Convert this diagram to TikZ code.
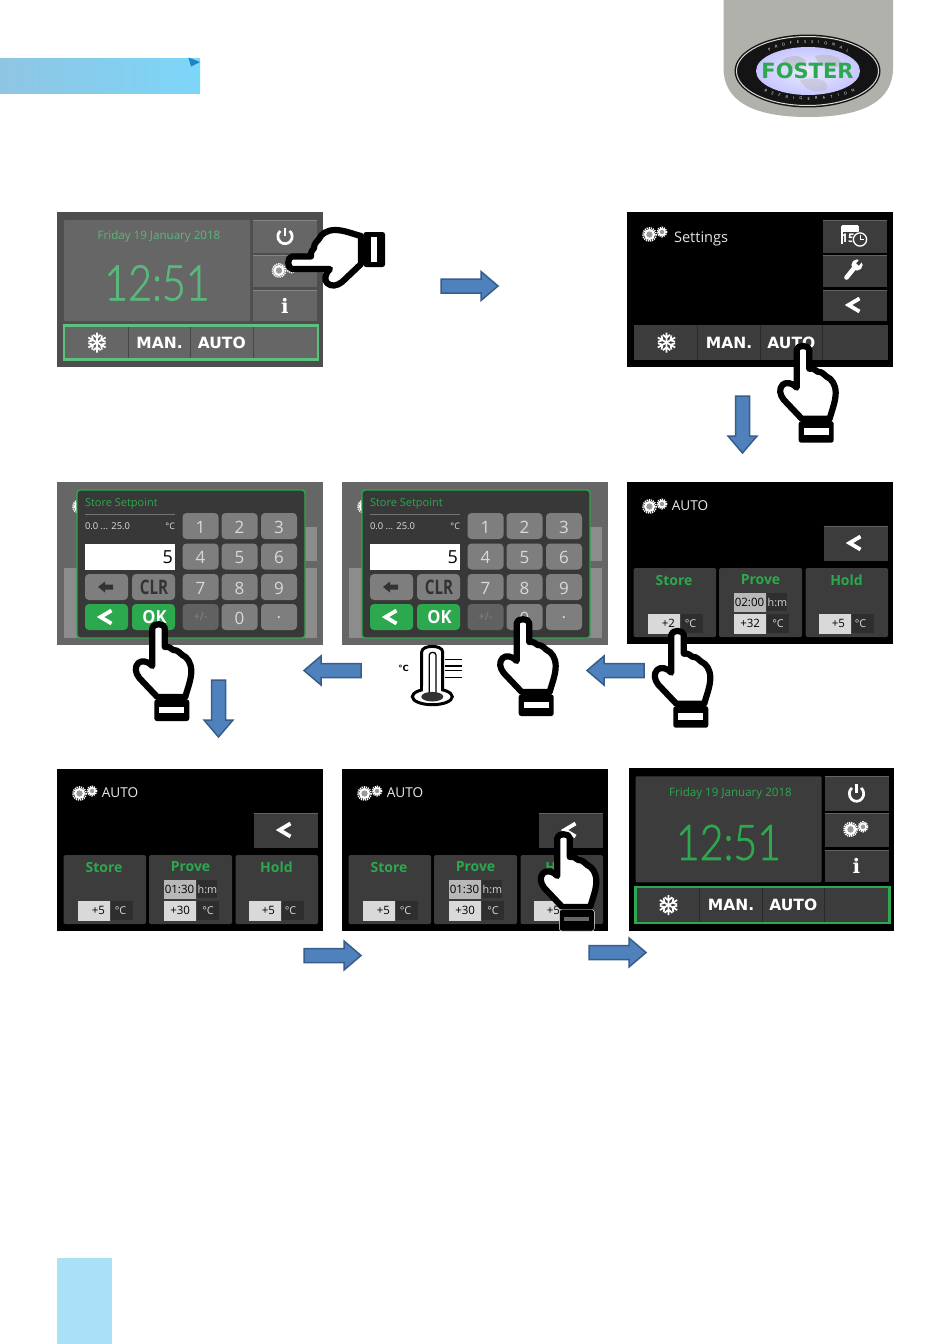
\documentclass[tikz,border=0pt]{standalone}
\usepackage{fontspec}
\setmainfont{Open Sans}
\newfontfamily\headfont{DejaVu Sans}
\newfontfamily\slabfont{DejaVu Serif}
\newfontfamily\lightfont{Lato}[UprightFont=* Light,UprightFeatures={FakeBold=1.5}]
\usetikzlibrary{decorations.text}
\definecolor{blueF}{HTML}{4F81BD}
\definecolor{blueD}{HTML}{385D8A}
\definecolor{tabgray}{HTML}{B0B1AB}
\definecolor{okgreen}{HTML}{2CA84F}
\definecolor{cardgray}{HTML}{3C3C3C}
\definecolor{unitgray}{HTML}{2E2E2E}
\definecolor{keygray}{HTML}{7E7E7E}
\definecolor{bandL}{HTML}{8FC5E3}
\definecolor{bandR}{HTML}{7CD6F8}
\definecolor{bandTri}{HTML}{1C85C8}
\definecolor{pageTab}{HTML}{AAE0F8}
\definecolor{washLine}{HTML}{5CC080}
\definecolor{washText}{HTML}{5AB87C}
\definecolor{washOuter}{HTML}{4E4E4E}
\definecolor{washPanel}{HTML}{666666}
\newcount\nodeno
\newcommand\T[4][]{\global\advance\nodeno by 1 \node[#1] (n\the\nodeno) at ({#2},{#3}) {#4};}
\tikzset{
  every node/.style={inner sep=0pt,outer sep=0pt},
  bigcaps/.style={text=white,font={\headfont\bfseries\fontsize{15.5}{16}\selectfont}},
  cardtitle/.style={text=okgreen,font={\bfseries\fontsize{14}{15}\selectfont}},
  valtext/.style={text=black,font={\fontsize{11.5}{12}\selectfont}},
  unittext/.style={text=white!85!black,font={\fontsize{10.8}{11}\selectfont}},
  keytext/.style={text=white!85!black,font={\fontsize{17}{18}\selectfont}},
  titletext/.style={text=white!92!black,font={\fontsize{13.6}{15}\selectfont}},
  whitechev/.style={draw=white,line width=3.8pt,line cap=butt,miter limit=10},
  blockarrow/.style={fill=blueF,draw=blueD,line width=1.5pt},
  handline/.style={draw=black,fill=white,line width=6.2pt,line join=round},
}
% ---------- icons
\newcommand\Chev[2]{\draw[whitechev] (#1+5.5,#2-6.5) -- (#1-5.5,#2) -- (#1+5.5,#2+6.5);}
\newcommand\OneGear[3]{% x y r
  \draw[white,line width=1.8pt,dash pattern=on 1.2pt off 0.9pt] (#1,#2) circle[radius=#3*0.92];
  \fill[white] (#1,#2) circle[radius=#3*0.8];
  \fill[black!40] (#1,#2) circle[radius=#3*0.45];
}
\newcommand\Gears[2]{\OneGear{#1}{#2}{7}\OneGear{#1+12.5}{#2-2.5}{5}}
\newcommand\Snow[2]{\foreach \a in {30,90,...,330}{
  \begin{scope}[shift={({#1},{#2})},rotate=\a]
    \draw[white,line width=1.7pt] (0,0)--(10,0) (7.8,-3.6)--(4.6,0)--(7.8,3.6);
  \end{scope}}}
\newcommand\Power[2]{%
  \draw[white,line width=2.7pt] (#1,#2) ++(-50:7.2) arc[start angle=-50,end angle=230,radius=7.2];
  \draw[white,line width=2.7pt] (#1,#2-9) -- (#1,#2-1);}
\newcommand\Btn[5]{\fill[#5] (#1,#2) rectangle (#3,#4); \draw[#5!80!white,line width=.8pt] (#1,#2+.4) -- (#3,#2+.4);}
\newcommand\BotBar[4]{% xleft ytop ybottom width-end
  \fill[\barcol] (#1,#2) rectangle (#1+#4,#3);
  \draw[\barcol!70!black,line width=.7pt] (#1+64,#2) -- (#1+64,#3) (#1+126.5,#2) -- (#1+126.5,#3) (#1+189,#2) -- (#1+189,#3);
  \Snow{#1+33}{(#2+#3)/2}
  \T[bigcaps]{#1+95.5}{(#2+#3)/2}{MAN.}
  \T[bigcaps]{#1+157.8}{(#2+#3)/2}{AUTO}
}
% ---------- clock screen
\newcommand\MainScreen[7]{% x0 y0 yfactor outer panel/btn linegreen textgreen
  \begin{scope}[shift={(#1,#2)},y=-#3pt]
  \fill[#4] (0,0) rectangle (265.5,155);
  \fill[#5,rounded corners=1pt] (7,8) rectangle (193,109);
  \Btn{196}{8}{260}{41}{#5}
  \Btn{196}{43}{260}{75}{#5}
  \Btn{196}{78}{260}{109}{#5}
  \def\barcol{#5}
  \BotBar{7}{113.5}{147.5}{254}
  \draw[#6,line width=2.6pt] (7,113.5) rectangle (261,147.5);
  \T[text=#7,font={\fontsize{11.6}{13}\selectfont}]{102}{24}{Friday 19 January 2018}
  \T[text=#7,font={\lightfont\fontsize{49}{50}\selectfont}]{100}{71}{\scalebox{.84}[1]{12:51}}
  \Power{228}{24.5}
  \Gears{222}{58.5}
  \T[text=white,font={\slabfont\bfseries\fontsize{20}{22}\selectfont}]{228}{93.5}{i}
  \end{scope}
}
% ---------- AUTO screen
\newcommand\AutoScreen[6]{% x0 y0 store time prove hold
  \begin{scope}[shift={(#1,#2)}]
  \fill[black] (0,0) rectangle (266,162);
  \Gears{22.5}{24.5}
  \T[titletext]{63}{23.5}{AUTO}
  \Btn{196.5}{44}{260.5}{79}{cardgray}
  \Chev{228}{61}
  \fill[cardgray,rounded corners=1.5pt] (6.5,86) rectangle (89,155);
  \fill[cardgray,rounded corners=1.5pt] (92,86) rectangle (175,155);
  \fill[cardgray,rounded corners=1.5pt] (178.5,86) rectangle (261,155);
  \T[cardtitle]{47}{98}{Store}
  \T[cardtitle]{133.5}{98}{Prove}
  \T[cardtitle]{219.5}{98}{Hold}
  % store value
  \fill[unitgray] (53,132) rectangle (76,151);
  \shade[left color=white!85!black,middle color=white,right color=white!85!black] (21,132) rectangle (53,151);
  \T[valtext,anchor=east]{48}{141.5}{#3}
  \T[unittext]{63.5}{141.5}{°C}
  % prove time
  \fill[unitgray] (139,111) rectangle (160,129);
  \shade[left color=white!72!black,middle color=white,right color=white!72!black] (107,111) rectangle (139,129);
  \T[valtext]{122.5}{120}{#4}
  \T[unittext]{150.5}{120}{h:m}
  % prove value
  \fill[unitgray] (139,132) rectangle (162,151);
  \shade[left color=white!85!black,middle color=white,right color=white!85!black] (107,132) rectangle (139,151);
  \T[valtext,anchor=east]{133}{141.5}{#5}
  \T[unittext]{151}{141.5}{°C}
  % hold value
  \fill[unitgray] (224,132) rectangle (247,151);
  \shade[left color=white!85!black,middle color=white,right color=white!85!black] (192,132) rectangle (224,151);
  \T[valtext,anchor=east]{218}{141.5}{#6}
  \T[unittext]{233.5}{141.5}{°C}
  \end{scope}
}
% ---------- keypad screen
\newcommand\KeyShape[5]{\fill[#5,rounded corners=4pt] (#1,#2) rectangle (#3,#4);}
\newcommand\Keypad[2]{%
  \begin{scope}[shift={(#1,#2)}]
  \fill[black!60] (0,0) rectangle (266,162.5);
  \fill[black!45] (248,45) rectangle (260,79);
  \fill[black!45] (7,86) rectangle (20,156);
  \fill[black!45] (248,86) rectangle (260,156);
  \OneGear{22.5}{24.5}{7}
  \fill[black!78,rounded corners=3pt] (20,8) rectangle (248,156);
  \draw[okgreen,line width=1.4pt,rounded corners=3pt] (20,8) rectangle (248,156);
  \T[anchor=west,text=okgreen,font={\fontsize{11}{12}\selectfont}]{28}{21.5}{Store Setpoint}
  \draw[black!55,line width=.7pt] (28,32) -- (118,32);
  \T[anchor=west,text=white!88!black,font={\fontsize{9.4}{10}\selectfont}]{28}{44.5}{0.0 ... 25.0}
  \T[anchor=east,text=white!88!black,font={\fontsize{9}{10}\selectfont}]{118}{44.5}{°C}
  \fill[white] (28,62) rectangle (118,87.5);
  \T[anchor=east,text=black,font={\fontsize{18}{19}\selectfont}]{116}{75.5}{5}
  \foreach \lbl/\cx/\cy in {1/143.5/44,2/182.5/44,3/222/44,4/143.5/74.5,5/182.5/74.5,6/222/74.5,7/143.5/105,8/182.5/105,9/222/105,0/182.5/135}{
    \KeyShape{\cx-18}{\cy-13}{\cx+18}{\cy+13}{keygray}
    \T[keytext]{\cx}{\cy+1}{\lbl}
  }
  \KeyShape{125.5}{122}{161.5}{148}{black!62}
  \T[text=black!48,font={\fontsize{11}{12}\selectfont}]{143.5}{135}{+/-}
  \KeyShape{204}{122}{240}{148}{keygray}
  \T[keytext]{222}{136}{.}
  \KeyShape{28}{92}{71}{118}{keygray}
  \fill[black!80] (41,105) -- (48,99.5) -- (48,102.5) -- (56,102.5) -- (56,107.5) -- (48,107.5) -- (48,110.5) -- cycle;
  \KeyShape{75}{92}{118}{118}{keygray}
  \T[text=black!80,font={\bfseries\fontsize{20}{22}\selectfont}]{97}{105}{\scalebox{.76}[1]{CLR}}
  \KeyShape{28}{122}{71}{148}{okgreen}
  \Chev{49}{135}
  \KeyShape{75}{122}{118}{148}{okgreen}
  \T[text=white,font={\bfseries\fontsize{18}{19}\selectfont}]{97.5}{135}{\scalebox{.92}[1]{OK}}
  \end{scope}
}
% ---------- hand pointing up, tip at local origin
\newcommand\Hand[5][]{% [cuff opts] x y rotation slitcolor
  \begin{scope}[shift={(#2,#3)},rotate=#4]
    \path[handline] (-6,3) .. controls (-6,-2) and (6.5,-2) .. (6.5,3) -- (6.5,22)
      .. controls (11,21) and (13,24) .. (15,25)
      .. controls (20,25) and (21,28) .. (24,30)
      .. controls (29,32) and (33,38) .. (33,46)
      .. controls (33,55) and (29,64) .. (27,72) -- (-1,72) -- (-19,53)
      .. controls (-23,48) and (-24,42) .. (-20,38)
      .. controls (-17,35) and (-10,36) .. (-6,41) -- cycle;
    \fill[black,rounded corners=2.5pt,#1] (-4,74.5) rectangle (31,96);
    \fill[#5] (1,81.5) rectangle (26,88);
  \end{scope}}
\newcommand\BlueArrow[3]{\begin{scope}[shift={(#1,#2)},rotate=#3]
   \path[blockarrow] (0,-7) -- (40,-7) -- (40,-14.5) -- (57,0) -- (40,14.5) -- (40,7) -- (0,7) -- cycle;
 \end{scope}}
\begin{document}
\begin{tikzpicture}[x=1pt,y=-1pt]
\useasboundingbox (0,0) rectangle (950,1344);
\fill[white] (0,0) rectangle (950,1344);
% header band
\shade[left color=bandL,right color=bandR] (0,58) rectangle (200,93);
\fill[bandTri] (188.5,57.5) -- (200,62) -- (191,66.5) -- cycle;
% logo tab
\fill[tabgray] (723.5,0) -- (893,0) -- (893,68) .. controls (893,100) and (865,117) .. (808,117) .. controls (751,117) and (723.5,100) .. (723.5,68) -- cycle;
\fill[black!92] (807.5,71) circle[x radius=73,y radius=36.5];
\draw[white!85!black,line width=1pt] (807.5,71) circle[x radius=71,y radius=34.5];
\fill[black!92] (807.5,71) circle[x radius=69.5,y radius=33];
\shade[inner color=white!92!blue,outer color=white!78!blue] (808,71) circle[x radius=52,y radius=24];
\fill[white!70!black,opacity=.5] (782,60) .. controls (795,52) and (805,58) .. (806,62) .. controls (800,70) and (790,72) .. (782,60) -- cycle;
\fill[white!70!black,opacity=.5] (815,56) .. controls (830,52) and (845,58) .. (840,66) .. controls (830,70) and (818,66) .. (815,56) -- cycle;
\fill[white!70!black,opacity=.4] (800,80) .. controls (815,76) and (832,80) .. (826,90) .. controls (815,94) and (805,90) .. (800,80) -- cycle;
\T[text=okgreen,font={\headfont\bfseries\fontsize{21}{23}\selectfont}]{807.5}{71}{FOSTER}
\path[decorate,decoration={text along path,text color=white,text align={fit to path},
  text={|\fontsize{4}{5}\selectfont|P R O F E S S I O N A L}}]
  (769,52) .. controls (790,40) and (826,40) .. (848,52);
\path[decorate,decoration={text along path,text color=white,text align={fit to path},
  text={|\fontsize{4}{5}\selectfont|R E F R I G E R A T I O N}}]
  (764,91) .. controls (785,103) and (830,103) .. (855,91);
% bottom tab
\fill[pageTab] (57,1258) rectangle (112,1344);
% screen 1
\MainScreen{57}{212}{1}{washOuter}{washPanel}{washLine}{washText}
% screen 2
\begin{scope}[shift={(627,212)}]
  \fill[black] (0,0) rectangle (266,155);
  \Gears{22.5}{22.5}
  \T[anchor=west,text=white!90!black,font={\fontsize{14.6}{16}\selectfont}]{47}{26.5}{Settings}
  \Btn{195.5}{8}{259.5}{41}{cardgray}
  \Btn{195.5}{43}{259.5}{75}{cardgray}
  \Btn{195.5}{78}{259.5}{109}{cardgray}
  \def\barcol{cardgray}
  \BotBar{6.5}{113}{148}{254}
  % calendar
  \draw[white,line width=1.4pt] (215,32) -- (215,14.5) -- (232,14.5) (215,14.5) rectangle (231,19);
  \fill[white] (215,13) rectangle (231,18);
  \T[text=white,font={\bfseries\fontsize{12}{13}\selectfont}]{221}{26.5}{15}
  \fill[cardgray] (233,27.5) circle[radius=8];
  \draw[white,line width=1.3pt] (233,27.5) circle[radius=6.6];
  \draw[white,line width=1pt] (233,23) -- (233,27.5) -- (237,27.5);
  % wrench
  \draw[white,line width=4.6pt,line cap=round] (219.5,65.5) -- (228,55);
  \fill[white] (230,53) circle[radius=5.6];
  \draw[cardgray,line width=3.4pt] (230.5,52.5) -- (236,46);
  \Chev{227}{93}
\end{scope}
% row 2
\Keypad{57}{482}
\Keypad{342}{482}
\AutoScreen{627}{482}{+2}{02:00}{+32}{+5}
% row 3
\AutoScreen{57}{769}{+5}{01:30}{+30}{+5}
\AutoScreen{342}{769}{+5}{01:30}{+30}{+5}
\MainScreen{628.5}{768}{1.05}{black}{cardgray}{okgreen}{okgreen}
% thermometer
\draw[black,line width=3pt] (432.3,696.7) circle[x radius=20,y radius=8];
\path[fill=white,draw=black,line width=3pt] (421.7,690) -- (421.7,652) .. controls (421.7,644.5) and (442.7,644.5) .. (442.7,652) -- (442.7,690);
\fill[white] (423.2,686) rectangle (441.2,692);
\draw[black,line width=1.3pt] (429.3,693) -- (429.3,655) .. controls (429.3,651.5) and (436,651.5) .. (436,655) -- (436,693);
\fill[black!80] (432.3,696.7) circle[x radius=11,y radius=4.8];
\draw[black,line width=1.5pt] (445,659.3) -- (461.7,659.3) (445,666) -- (461.7,666) (445,670.7) -- (461.7,670.7) (445,677.3) -- (461.7,677.3);
\T[text=black,font={\headfont\bfseries\fontsize{8.5}{10}\selectfont}]{403.5}{668}{°C}
% hands
\Hand{289}{263}{90}{white}
\Hand{802.7}{346.7}{0}{white}
\Hand{677.3}{631.7}{0}{white}
\Hand{522.7}{620}{0}{white}
\Hand{158.3}{625}{0}{white}
\Hand[draw=white,line width=.4pt]{563.3}{835}{0}{black}
\fill[black!60] (564.3,917) rectangle (589.3,920.5);
% arrows
\BlueArrow{441}{286}{0}
\BlueArrow{742.5}{396}{-90}
\BlueArrow{644}{670.5}{180}
\BlueArrow{361}{670.5}{180}
\BlueArrow{218.5}{680}{-90}
\BlueArrow{304}{955.5}{0}
\BlueArrow{589}{952.5}{0}
\end{tikzpicture}
\end{document}
